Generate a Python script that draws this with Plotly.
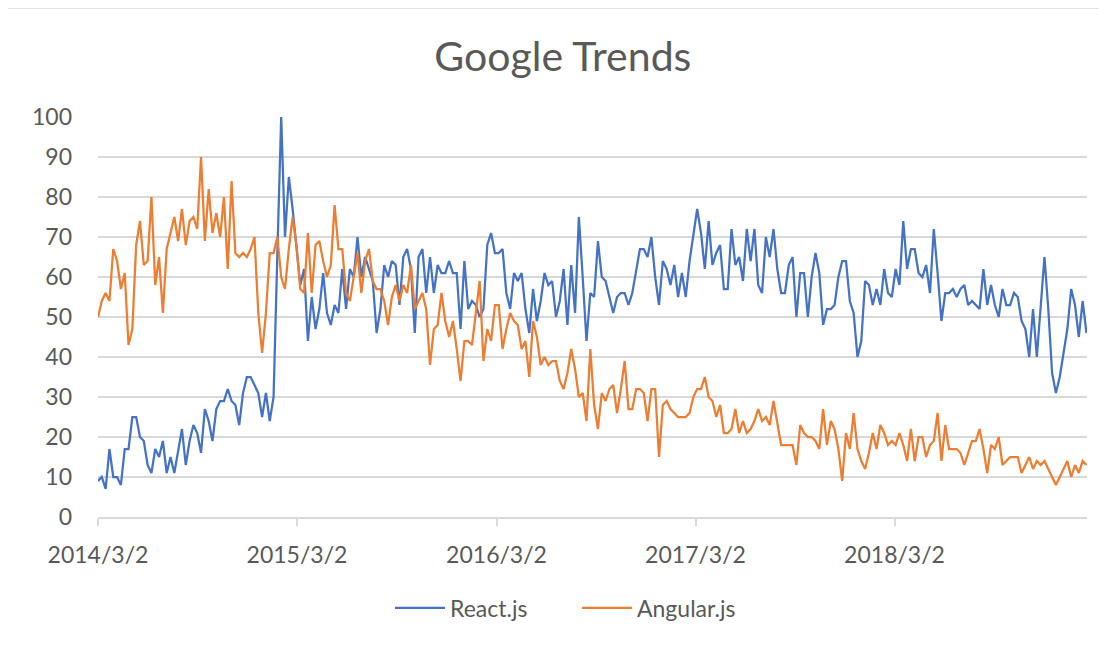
import pandas as pd
import plotly.graph_objects as go

start_date = "2014-03-02"
n_weeks = 260
dates = pd.date_range(start_date, periods=n_weeks, freq="7D")

react = [
    9, 10, 7, 17, 10, 10, 8, 17, 17, 25, 25, 20, 19, 13, 11, 17, 15, 19, 11, 15, 11, 16, 22, 13, 19, 23, 21, 16, 27, 24, 19, 27, 29,
    29, 32, 29, 28, 23, 31, 35, 35, 33, 31, 25, 31, 24, 30, 66, 100, 70, 85, 77, 68, 58, 62, 44, 55, 47, 52, 61, 51, 48, 53, 51, 62,
    52, 62, 60, 70, 60, 65, 62, 59, 46, 52, 63, 60, 64, 63, 53, 65, 67, 62, 46, 65, 67, 56, 65, 56, 63, 61, 61, 64, 61, 61, 47, 64, 52,
    54, 53, 50, 52, 68, 71, 66, 66, 67, 56, 52, 61, 59, 61, 52, 46, 57, 49, 54, 61, 58, 59, 50, 54, 62, 48, 63, 51, 75, 60, 44, 56, 55,
    69, 60, 59, 55, 51, 55, 56, 56, 53, 56, 62, 67, 67, 65, 70, 60, 53, 64, 62, 58, 63, 55, 61, 55, 64, 70, 77, 71, 62, 74, 63, 66, 68,
    57, 57, 72, 63, 65, 59, 72, 64, 72, 58, 56, 70, 65, 72, 62, 56, 56, 63, 65, 50, 61, 61, 50, 60, 66, 61, 48, 52, 52, 53, 60, 64, 64,
    54, 51, 40, 44, 59, 58, 53, 57, 53, 62, 56, 55, 62, 58, 74, 62, 67, 67, 61, 60, 63, 56, 72, 61, 49, 56, 56, 57, 55, 57, 58, 53,
    54, 53, 52, 62, 53, 58, 53, 50, 57, 53, 53, 56, 55, 49, 47, 40, 52, 40, 52, 65, 52, 36, 31, 35, 41, 47, 57, 53, 45, 54, 46,
]

angular = [
    50, 54, 56, 54, 67, 64, 57, 61, 43, 47, 68, 74, 63, 64, 80, 58, 65, 51, 67, 71, 75, 69, 77, 68, 74, 75, 72, 90, 69, 82, 71, 76, 70,
    80, 62, 84, 66, 65, 66, 65, 67, 70, 51, 41, 51, 66, 66, 70, 60, 57, 67, 75, 68, 57, 56, 71, 56, 68, 69, 64, 60, 63, 78, 67, 67,
    56, 54, 60, 66, 56, 64, 67, 59, 57, 57, 54, 48, 55, 58, 54, 58, 56, 63, 52, 54, 56, 52, 38, 47, 48, 56, 49, 45, 49, 42, 34, 44, 44,
    43, 51, 59, 39, 47, 44, 53, 53, 42, 47, 51, 49, 48, 42, 44, 35, 49, 45, 38, 40, 38, 39, 39, 34, 32, 36, 42, 37, 30, 31, 24, 42, 28,
    22, 31, 29, 32, 33, 26, 32, 39, 27, 27, 32, 32, 31, 24, 32, 32, 15, 28, 29, 27, 26, 25, 25, 25, 26, 30, 32, 32, 35, 30, 29, 25, 28,
    21, 21, 22, 27, 21, 24, 21, 22, 24, 27, 24, 25, 23, 29, 23, 18, 18, 18, 18, 13, 23, 21, 20, 20, 19, 17, 27, 18, 24, 22, 17, 9, 21,
    17, 26, 17, 14, 12, 16, 21, 17, 23, 21, 18, 19, 18, 21, 18, 14, 22, 14, 20, 20, 15, 18, 19, 26, 14, 23, 17, 17, 17, 16, 13, 16,
    19, 19, 22, 17, 11, 18, 17, 20, 13, 14, 15, 15, 15, 11, 13, 15, 12, 14, 13, 14, 12, 10, 8, 10, 12, 14, 10, 13, 11, 14, 13,
]

tick_dates = ["2014-03-02", "2015-03-02", "2016-03-02", "2017-03-02", "2018-03-02"]
tick_labels = ["2014/3/2", "2015/3/2", "2016/3/2", "2017/3/2", "2018/3/2"]
y_ticks = list(range(0, 101, 10))

FONT = "Lato"
TEXT = "#595959"
GRID = "#D9D9D9"

# page body adds an 8px margin; size the figure so it fits the window
W, H = 1099, 641

fig = go.Figure()
fig.add_trace(go.Scatter(x=dates, y=react, mode="lines", name="React.js",
                         line=dict(color="#4472C4", width=2.25)))
fig.add_trace(go.Scatter(x=dates, y=angular, mode="lines", name="Angular.js",
                         line=dict(color="#ED7D31", width=2.25)))

fig.update_layout(
    width=W, height=H,
    margin=dict(l=90, r=20, t=109, b=132),
    paper_bgcolor="white", plot_bgcolor="white",
    font=dict(family=FONT, color=TEXT, size=23),
    title=dict(text="Google Trends", font=dict(family=FONT, size=41, color=TEXT),
               x=0.47, xref="paper", xanchor="center",
               y=1 - 49 / H, yref="container", yanchor="middle"),
    showlegend=True,
    legend=dict(orientation="h", x=(382 - 90) / 989, xanchor="left", y=-0.2275, yanchor="middle",
                itemwidth=50, entrywidth=122, entrywidthmode="pixels",
                font=dict(family=FONT, size=23, color=TEXT), bgcolor="rgba(0,0,0,0)"),
    xaxis=dict(
        type="date",
        range=["2014-03-02", "2019-02-18"],
        tickvals=tick_dates, ticktext=tick_labels,
        showgrid=False, zeroline=False,
        showline=True, linecolor=GRID, linewidth=1.5,
        ticks="outside", ticklen=7, tickcolor=GRID, tickwidth=1.5,
        ticklabelstandoff=10,
        tickfont=dict(family=FONT, size=23, color=TEXT),
    ),
    yaxis=dict(
        range=[0, 100], tickvals=y_ticks,
        showgrid=True, gridcolor=GRID, gridwidth=1.5,
        zeroline=False, showline=False, ticks="",
        ticklabelstandoff=25,
        tickfont=dict(family=FONT, size=23, color=TEXT),
    ),
    shapes=[dict(type="rect", xref="paper", yref="paper",
                 x0=(5 - 98) / 989, x1=(1130 - 98) / 989,
                 y0=(517 - 670) / 400, y1=(517 - 8) / 400,
                 line=dict(color=GRID, width=1.5), fillcolor="rgba(0,0,0,0)", layer="below")],
)

fig.write_html("out.html")
